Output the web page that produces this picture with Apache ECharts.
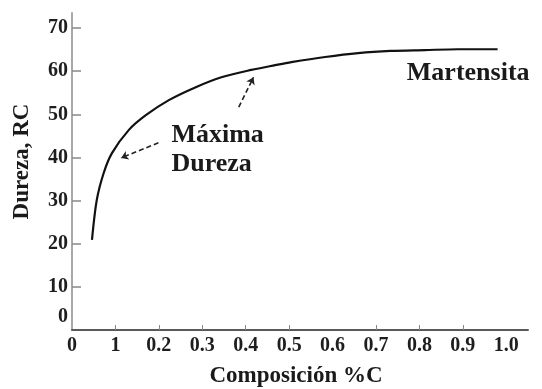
<!DOCTYPE html>
<html>
<head>
<meta charset="utf-8">
<script src="https://cdn.jsdelivr.net/npm/echarts@6/dist/echarts.min.js"></script>
<style>
  html, body { margin: 0; padding: 0; background: #fff; }
  #chart { width: 542px; height: 389px; }
</style>
</head>
<body>
<div id="chart"></div>
<script>
// Hardness (Rockwell C) of martensite vs. carbon content
const carbonPct = [0.046, 0.057, 0.073, 0.092, 0.131, 0.170, 0.223, 0.285, 0.344, 0.413, 0.468, 0.505, 0.583, 0.659, 0.734, 0.812, 0.888, 0.980];
const hardnessRC = [20.9, 30.1, 36.4, 41.0, 46.4, 49.8, 53.3, 56.3, 58.6, 60.3, 61.4, 62.1, 63.3, 64.2, 64.7, 64.9, 65.1, 65.1];

// Axis tick values and their printed labels
const xTickValues = [0, 0.1, 0.2, 0.3, 0.4, 0.5, 0.6, 0.7, 0.8, 0.9, 1.0];
const xTickLabels = ['0', '1', '0.2', '0.3', '0.4', '0.5', '0.6', '0.7', '0.8', '0.9', '1.0'];
const xTickMarks = [0.1, 0.2, 0.3, 0.4, 0.5, 0.7, 0.8, 0.9];
const yTickValues = [0, 10, 20, 30, 40, 50, 60, 70];
const yTickLabels = ['0', '10', '20', '30', '40', '50', '60', '70'];
const yTickMarks = [10, 20, 30, 40, 50, 60, 70];

// Annotation texts, anchors and pointer arrows (data coordinates)
const noteMaxText = 'Máxima\nDureza';
const noteMaxAt = [0.229, 41.8];
const noteMartText = 'Martensita';
const noteMartAt = [0.771, 59.6];
const arrowLow = [[0.199, 43.4], [0.113, 39.9]];
const arrowHigh = [[0.384, 51.7], [0.418, 58.6]];

const serif = "'Liberation Serif', 'Times New Roman', serif";

const chart = echarts.init(document.getElementById('chart'));
chart.setOption({
  animation: false,
  backgroundColor: '#ffffff',
  grid: { left: 72, right: 14, top: 13, bottom: 59, outerBoundsMode: 'none' },
  xAxis: {
    type: 'value',
    min: 0,
    max: 1.05,
    name: 'Composición %C',
    nameLocation: 'middle',
    nameGap: 35,
    nameTextStyle: { fontFamily: serif, fontWeight: 'bold', fontSize: 23, color: '#1a1a1a', padding: [0, 8, 0, 0] },
    splitLine: { show: false },
    axisLine: { show: true, lineStyle: { color: '#5a5a5a', width: 2 } },
    axisTick: { show: true, inside: true, length: 5, customValues: xTickMarks, lineStyle: { color: '#888', width: 1 } },
    axisLabel: {
      customValues: xTickValues,
      margin: 6,
      fontFamily: serif, fontWeight: 'bold', fontSize: 20, color: '#1e1e1e',
      formatter: v => {
        const i = xTickValues.findIndex(t => Math.abs(t - v) < 1e-6);
        return i < 0 ? '' : xTickLabels[i];
      }
    }
  },
  yAxis: {
    type: 'value',
    min: 0,
    max: 73.5,
    name: 'Dureza, RC',
    nameLocation: 'middle',
    nameGap: 38,
    nameRotate: 90,
    nameTextStyle: { fontFamily: serif, fontWeight: 'bold', fontSize: 23, color: '#1a1a1a', padding: [0, 0, 0, 20] },
    splitLine: { show: false },
    axisLine: { show: true, lineStyle: { color: '#a8a8a8', width: 2 } },
    axisTick: { show: true, inside: true, length: 9, customValues: yTickMarks, lineStyle: { color: '#888', width: 1.5 } },
    axisLabel: {
      customValues: yTickValues,
      margin: 4,
      fontFamily: serif, fontWeight: 'bold', fontSize: 20, color: '#1e1e1e',
      formatter: v => {
        const i = yTickValues.findIndex(t => Math.abs(t - v) < 1e-6);
        if (i < 0) return '';
        return i === 0 ? '{zero|' + yTickLabels[i] + '}' : yTickLabels[i];
      },
      rich: {
        zero: { fontFamily: serif, fontWeight: 'bold', fontSize: 20, color: '#1e1e1e', padding: [0, 0, 26, 0] }
      }
    }
  },
  series: [
    {
      type: 'line',
      data: carbonPct.map((c, i) => [c, hardnessRC[i]]),
      smooth: 0.3,
      showSymbol: false,
      lineStyle: { color: '#111', width: 2.2 },
      markLine: {
        silent: true,
        symbol: ['none', 'arrow'],
        symbolSize: 7,
        label: { show: false },
        lineStyle: { color: '#222', width: 1.6, type: [5, 3] },
        data: [
          [{ coord: arrowLow[0] }, { coord: arrowLow[1] }],
          [{ coord: arrowHigh[0] }, { coord: arrowHigh[1] }]
        ]
      },
      markPoint: {
        silent: true,
        symbol: 'circle',
        symbolSize: 0,
        label: {
          show: true,
          position: 'right',
          distance: 0,
          fontFamily: serif, fontWeight: 'bold', fontSize: 26, lineHeight: 29, color: '#1a1a1a',
          align: 'left',
          formatter: p => p.name
        },
        data: [
          { name: noteMaxText, coord: noteMaxAt },
          { name: noteMartText, coord: noteMartAt }
        ]
      }
    }
  ]
});
</script>
</body>
</html>
